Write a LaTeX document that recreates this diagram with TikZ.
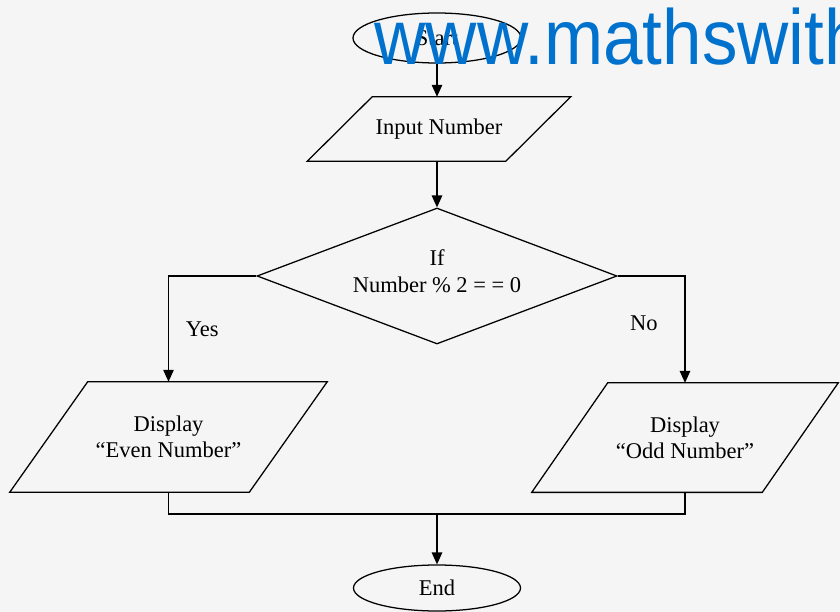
\documentclass[tikz,border=0pt]{standalone}
\usepackage{fontspec}
\setmainfont{Liberation Serif}
\newfontfamily\sitefont{Liberation Sans}
\usetikzlibrary{shapes.geometric,arrows.meta}
\definecolor{paper}{RGB}{245,245,245}
\definecolor{siteblue}{RGB}{0,114,206}
\tikzset{
	terminal/.style={draw, ellipse, line width=0.9pt, inner sep=0pt},
	io/.style={inner sep=0pt, align=center},
	decision/.style={draw, diamond, aspect=2.65, line width=0.9pt, inner sep=0pt, align=center},
	flow/.style={line width=0.9pt, -{Triangle[length=8.5pt,width=7.5pt]}},
	line/.style={line width=0.9pt},
}
% parallelogram round a node: name, slant
\newcommand\slantbox[2]{\draw[line] ([xshift=#2]#1.north west) -- (#1.north east)
	-- ([xshift=-#2]#1.south east) -- (#1.south west) -- cycle;}
\begin{document}
\begin{tikzpicture}[font=\fontsize{16}{18.5}\selectfont]
			\fill[paper] (0,0) rectangle (21,-15.3);
			\useasboundingbox (0,0) rectangle (21,-15.3);
			% nodes
			\node[terminal, minimum width=4.2cm, minimum height=1.25cm] (start) at (10.925,-0.95) {Start};
			\node[io, minimum width=6.575cm, minimum height=1.6cm] (inp) at (10.975,-3.225) {Input Number};
			\node[decision, minimum width=9cm, minimum height=3.4cm] (dec) at (10.925,-6.9) {If\\Number \% 2 = = 0\\[-11.5pt]};
			\node[io, minimum width=7.925cm, minimum height=2.75cm] (even) at (4.2125,-10.925) {Display\\``Even Number''};
			\node[io, minimum width=7.65cm, minimum height=2.725cm] (odd) at (17.125,-10.94) {Display\\``Odd Number''};
			\node[terminal, minimum width=4.175cm, minimum height=1.15cm] (end) at (10.925,-14.7) {End};
			\coordinate (merge) at (10.925,-12.85);
			\slantbox{inp}{1.625cm}
			\slantbox{even}{1.95cm}
			\slantbox{odd}{1.9cm}
			% connectors
			\draw[flow] (start) -- (start|-inp.north);
			\draw[flow] (inp.south-|dec) -- (dec);
			\draw[flow] (dec.west) -| node[pos=0.75, right=0.3cm]{Yes} (even.north);
			\draw[flow] (dec.east) -| node[pos=0.72, left=0.55cm]{No} (odd.north);
			\draw[line] (even.south) |- (merge) -| (odd.south);
			\draw[flow] (merge) -- (end);
			% watermark
			\begin{scope}
			\clip (0,0) rectangle (21,-15.3);
			\node[anchor=base west, inner sep=0pt, text=siteblue, font=\sitefont\fontsize{50.5}{50.5}\selectfont]
				(site) at (9.36,-1.625) {\scalebox{1}[1.1]{www.mathswith}};
			\end{scope}
		\end{tikzpicture}
\end{document}
